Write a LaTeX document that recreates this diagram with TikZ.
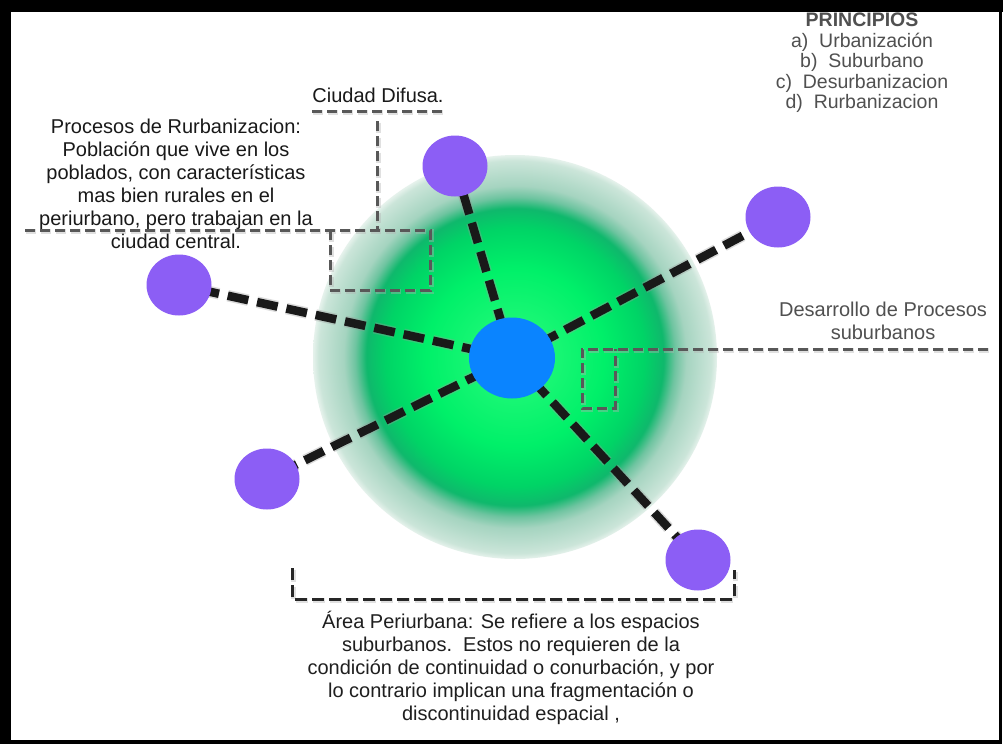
\documentclass[tikz,border=0pt]{standalone}
\usepackage{fontspec}
\setmainfont{Liberation Sans}
\usetikzlibrary{shapes.geometric}
\definecolor{purp}{RGB}{140,94,245}
\definecolor{hubblue}{RGB}{10,132,255}
\definecolor{lblgray}{RGB}{80,80,80}
\definecolor{dashgray}{RGB}{88,88,88}
\definecolor{gA}{RGB}{45,252,125}
\definecolor{gB}{RGB}{0,240,105}
\definecolor{gC}{RGB}{0,212,102}
\definecolor{gD}{RGB}{15,184,108}
\definecolor{gE}{RGB}{110,196,160}
\definecolor{gF}{RGB}{165,212,192}
\definecolor{gG}{RGB}{203,229,217}
\definecolor{gH}{RGB}{230,242,236}
\pgfdeclareradialshading{greenglow}{\pgfpoint{0bp}{0bp}}{color(0bp)=(gA); color(11bp)=(gB); color(16bp)=(gC); color(18.4bp)=(gD); color(19.8bp)=(gE); color(21.2bp)=(gF); color(24.3bp)=(gG); color(25bp)=(gH); color(50bp)=(gH)}
\pgfdeclarelayer{bglayer}
\pgfdeclarelayer{midlayer}
\pgfsetlayers{bglayer,midlayer,main}
\begin{document}
\begin{tikzpicture}[x=1pt,y=-1pt,
  txt/.style={align=center, inner sep=0pt, font=\fontsize{20}{23}\selectfont},
  purpnode/.style={ellipse, fill=purp, minimum width=65pt, minimum height=61pt, inner sep=0pt},
  hubnode/.style={ellipse, fill=hubblue, minimum width=86pt, minimum height=81pt, inner sep=0pt},
  spoke/.style={draw=black!90, line width=8.5pt, dash pattern=on 21pt off 9pt,
    preaction={draw=black!40, line width=11.5pt, dash pattern=on 21pt off 9pt, opacity=0.35}},
  graybr/.style={draw=dashgray, line width=3pt, dash pattern=on 10pt off 5pt,
    preaction={draw=black!30, line width=5pt, dash pattern=on 10pt off 5pt, opacity=0.4, transform canvas={shift={(1pt,-1.5pt)}}}},
  blackbr/.style={draw=black!85, line width=3pt, dash pattern=on 12pt off 5pt,
    preaction={draw=black!30, line width=5pt, dash pattern=on 12pt off 5pt, opacity=0.4, transform canvas={shift={(1pt,-1.5pt)}}}}
]
\useasboundingbox (0,0) rectangle (1003,750);

% background and glow
\begin{pgfonlayer}{bglayer}
\fill[white] (0,0) rectangle (1003,750);
\node[circle, minimum size=404pt, inner sep=0pt, shading=greenglow] (glow) at (515,357) {};
\end{pgfonlayer}

% frame
\fill[black] (0,0) rectangle (1003,12);
\fill[black] (0,0) rectangle (11,744);
\fill[black] (0,740) rectangle (1002,744);
\fill[black] (999,0) rectangle (1002,744);

% nodes
\node[hubnode] (hub) at (512,358) {};
\node[purpnode] (ptop) at (455,166) {};
\node[purpnode] (pleft) at (179,285) {};
\node[purpnode] (plowleft) at (267,479) {};
\node[purpnode] (plowright) at (698,560) {};
\node[purpnode] (pright) at (778,217) {};

% spokes
\begin{pgfonlayer}{midlayer}
\draw[spoke] (hub.center) -- (ptop.center);
\draw[spoke] (hub.center) -- (pleft.center);
\draw[spoke] (hub.center) -- (plowleft.center);
\draw[spoke] (hub.center) -- (plowright.center);
\draw[spoke] (hub.center) -- (pright.center);
\end{pgfonlayer}

% texts
\node[txt, text=lblgray, font=\fontsize{19.5}{20.5}\selectfont] (principios) at (862,63)
  {\textbf{PRINCIPIOS}\\a)\ \ Urbanización\\b)\ \ Suburbano\\c)\ \ Desurbanizacion\\d)\ \ Rurbanizacion};
\node[txt, text=black!90] (difusa) at (378,95) {Ciudad Difusa.};
\node[txt, text=black!90] (rurb) at (176,184)
  {Procesos de Rurbanizacion:\\Población que vive en los\\poblados, con características\\mas bien rurales en el\\periurbano, pero trabajan en la\\ciudad central.};
\node[txt, text=lblgray] (desarrollo) at (883,321) {Desarrollo de Procesos\\suburbanos};
\node[txt, text=black!88] (area) at (511,668)
  {Área Periurbana: Se refiere a los espacios\\suburbanos.\ \ Estos no requieren de la\\condición de continuidad o conurbación, y por\\lo contrario implican una fragmentación o\\discontinuidad espacial ,};

% annotation brackets
\coordinate (dA) at (312,111);
\coordinate (dB) at (443,111);
\coordinate (dV1) at (377,121);
\coordinate (dV2) at (377,229);
\draw[graybr] (dA) -- (dB);
\draw[graybr] (dV1) -- (dV2);

\coordinate (rL) at (25,230);
\coordinate (rR) at (430,230);
\coordinate (rRb) at (430,290);
\coordinate (rLb) at (330,290);
\coordinate (rLt) at (330,230);
\draw[graybr] (rL) -- (rR) -- (rRb) -- (rLb) -- (rLt);

\coordinate (sR) at (988,349);
\coordinate (sL) at (582,349);
\coordinate (sLb) at (582,408);
\coordinate (sRb) at (615,408);
\coordinate (sRt) at (615,349);
\draw[graybr] (sR) -- (sL) -- (sLb) -- (sRb) -- (sRt);

\coordinate (bL) at (292,568);
\coordinate (bLb) at (292,599);
\coordinate (bRb) at (734,599);
\coordinate (bR) at (734,570);
\draw[blackbr] (bL) -- (bLb) -- (bRb) -- (bR);
\end{tikzpicture}
\end{document}
